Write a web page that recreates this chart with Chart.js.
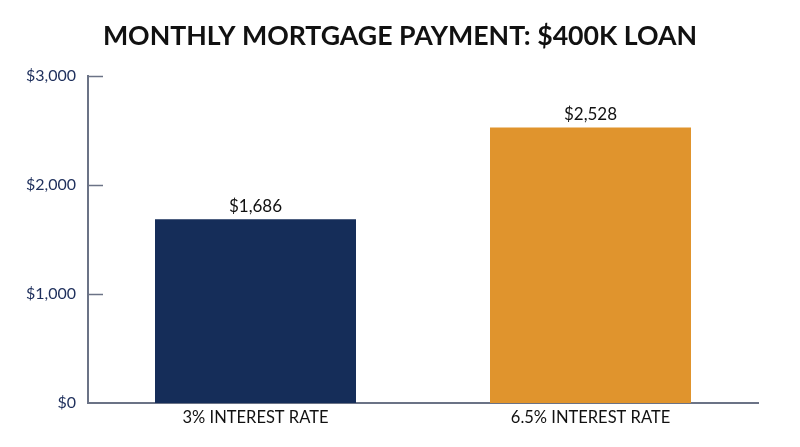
<!DOCTYPE html>
<html>
<head>
<meta charset="utf-8">
<script src="https://cdn.jsdelivr.net/npm/chart.js@4/dist/chart.umd.min.js"></script>
<style>
  html, body { margin: 0; padding: 0; background: #ffffff; }
  #wrap { width: 800px; height: 447px; position: relative; }
</style>
</head>
<body>
<div id="wrap"><canvas id="chart"></canvas></div>
<script>
const categories = ['3% INTEREST RATE', '6.5% INTEREST RATE'];
const payments = [1686, 2528];
const barColors = ['#152d59', '#e0942d'];
const yTicks = [0, 1000, 2000, 3000];

const AXIS_COLOR = '#6b7386';

// small inward tick marks on the y axis
const innerTicks = {
    id: 'innerTicks',
    afterDraw(chart) {
        const ctx = chart.ctx;
        const y = chart.scales.y;
        ctx.save();
        ctx.strokeStyle = AXIS_COLOR;
        ctx.lineWidth = 1.5;
        y.ticks.forEach(t => {
            const py = Math.round(y.getPixelForValue(t.value)) + 0.5;
            if (t.value === 0) return;
            ctx.beginPath();
            ctx.moveTo(y.right, py);
            ctx.lineTo(y.right + 15, py);
            ctx.stroke();
        });
        ctx.restore();
    }
};

// value labels above each bar
const valueLabels = {
    id: 'valueLabels',
    afterDatasetsDraw(chart) {
        const ctx = chart.ctx;
        const meta = chart.getDatasetMeta(0);
        ctx.save();
        ctx.font = '17px Lato';
        ctx.fillStyle = '#111111';
        ctx.textAlign = 'center';
        ctx.textBaseline = 'bottom';
        meta.data.forEach((bar, i) => {
            ctx.fillText('$' + payments[i].toLocaleString('en-US'), bar.x, bar.y - 4);
        });
        ctx.restore();
    }
};

new Chart(document.getElementById('chart').getContext('2d'), {
    type: 'bar',
    data: {
        labels: categories,
        datasets: [{
            data: payments,
            backgroundColor: barColors,
            borderWidth: 0,
            categoryPercentage: 1,
            barPercentage: 0.6,
        }]
    },
    options: {
        responsive: true,
        maintainAspectRatio: false,
        animation: false,
        layout: { padding: 0 },
        plugins: {
            legend: { display: false },
            tooltip: { enabled: false },
            title: {
                display: true,
                text: 'MONTHLY MORTGAGE PAYMENT: $400K LOAN',
                color: '#111111',
                font: { family: 'Lato', size: 26.7, weight: 'bold', lineHeight: 1.2 },
                padding: { top: 20, bottom: 24 },
            }
        },
        scales: {
            x: {
                grid: { display: false, drawTicks: false },
                border: { display: true, color: AXIS_COLOR, width: 2 },
                ticks: {
                    color: '#111111',
                    font: { family: 'Lato', size: 16.5 },
                    padding: 5,
                    maxRotation: 0,
                },
                afterFit(scale) { scale.height = 44; }
            },
            y: {
                min: 0,
                max: 3000,
                afterBuildTicks(scale) {
                    scale.ticks = yTicks.map(v => ({ value: v }));
                },
                grid: { display: false, drawTicks: false },
                border: { display: true, color: AXIS_COLOR, width: 2 },
                ticks: {
                    color: '#1e2f5c',
                    font: { family: 'Lato', size: 16 },
                    padding: 12,
                    callback: v => '$' + v.toLocaleString('en-US'),
                },
                afterFit(scale) { scale.width = 88; }
            },
            // empty right-hand spacer so the title stays centred on the canvas
            spacer: {
                type: 'linear',
                position: 'right',
                display: true,
                grid: { display: false, drawTicks: false },
                border: { display: false },
                ticks: { display: false },
                afterFit(scale) { scale.width = 42; }
            }
        }
    },
    plugins: [innerTicks, valueLabels]
});
</script>
</body>
</html>
